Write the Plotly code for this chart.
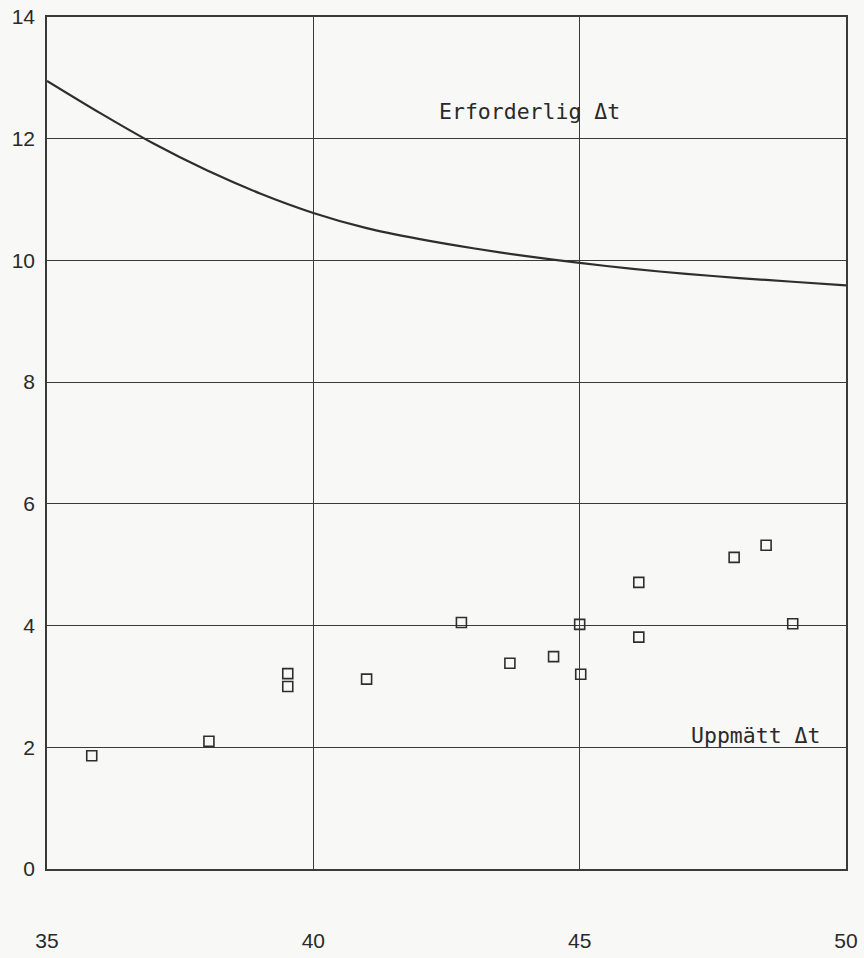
import plotly.graph_objects as go

# Required Δt curve
curve_x = [35, 36, 37, 38, 39, 40, 41, 42, 43, 44, 45, 46, 47, 48, 49, 50]
curve_y = [12.95, 12.42, 11.92, 11.48, 11.10, 10.78, 10.53, 10.35, 10.20, 10.07, 9.96, 9.86, 9.78, 9.71, 9.65, 9.59]

# Measured Δt points
meas_x = [35.84, 38.04, 39.52, 39.52, 41.0, 42.78, 43.69, 44.51, 45.0, 45.02, 46.11, 46.11, 47.9, 48.5, 49.0]
meas_y = [1.86, 2.10, 3.21, 3.00, 3.12, 4.05, 3.38, 3.49, 4.02, 3.20, 4.71, 3.81, 5.12, 5.32, 4.03]

x_ticks = [35, 40, 45, 50]
y_ticks = [0, 2, 4, 6, 8, 10, 12, 14]

label_req = "Erforderlig \u0394t"
label_meas = "Uppm\u00e4tt \u0394t"

ink = "#2a2a2a"
bg = "#f8f8f6"

fig = go.Figure()
fig.add_trace(go.Scatter(x=curve_x, y=curve_y, mode="lines",
                         line=dict(color="#2e2e2e", width=2.2, shape="spline", smoothing=0.8),
                         showlegend=False))
fig.add_trace(go.Scatter(x=meas_x, y=meas_y, mode="markers",
                         marker=dict(symbol="square-open", size=10,
                                     line=dict(color="#2e2e2e", width=1.6),
                                     color="#2e2e2e"),
                         showlegend=False))

fig.add_annotation(x=42.32, y=12.44, text=label_req, showarrow=False,
                   xanchor="left", yanchor="middle",
                   font=dict(family="DejaVu Sans Mono", size=21.5, color=ink))
fig.add_annotation(x=49.55, y=2.2, text=label_meas, showarrow=False,
                   xanchor="right", yanchor="middle",
                   font=dict(family="DejaVu Sans Mono", size=21.5, color=ink))

fig.update_xaxes(range=[35, 50], tickvals=x_ticks, ticktext=[str(v) for v in x_ticks],
                 showgrid=True, gridcolor="#3a3a3a", gridwidth=1.3,
                 showline=True, linecolor="#3a3a3a", linewidth=1.5, mirror=True,
                 zeroline=False, ticks="", ticklabelstandoff=52, automargin=False,
                 tickfont=dict(family="Liberation Sans", size=21, color=ink))
fig.update_yaxes(range=[0, 14], tickvals=y_ticks, ticktext=[str(v) for v in y_ticks],
                 showgrid=True, gridcolor="#3a3a3a", gridwidth=1.3,
                 showline=True, linecolor="#3a3a3a", linewidth=1.5, mirror=True,
                 zeroline=False, ticks="", ticklabelstandoff=6, automargin=False,
                 tickfont=dict(family="Liberation Sans", size=21, color=ink))

fig.update_layout(width=864, height=958,
                  margin=dict(l=47, r=18, t=17, b=89),
                  paper_bgcolor=bg, plot_bgcolor=bg,
                  showlegend=False)

fig.write_html("out.html")
